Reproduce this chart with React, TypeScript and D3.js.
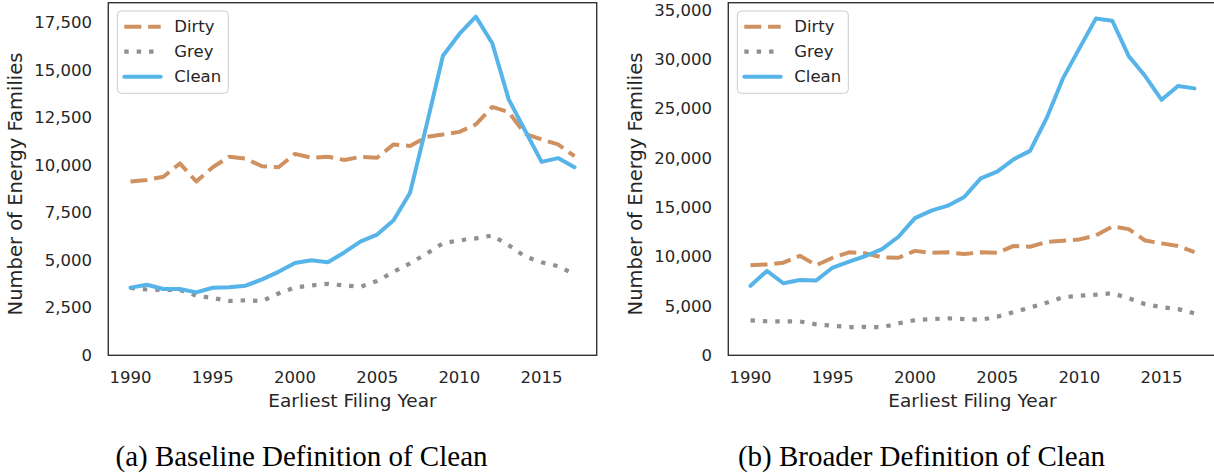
import React from "react";
import * as d3 from "d3";

const years = d3.range(1990, 2018);

const dirty = [9150, 9230, 9400, 10100, 9150, 9900, 10450, 10350, 9950, 9900, 10600, 10400, 10450, 10280,
  10450, 10400, 11100, 11020, 11500, 11620, 11760, 12150, 13070, 12800, 11650, 11360, 11100, 10480];
const grey = [3550, 3470, 3450, 3450, 3150, 3020, 2870, 2900, 2860, 3260, 3580, 3680, 3770, 3680,
  3620, 3920, 4400, 4850, 5350, 5900, 6060, 6160, 6310, 5800, 5200, 4900, 4700, 4270];
const cleanBaseline = [3570, 3720, 3500, 3500, 3320, 3560, 3590, 3670, 4000, 4400, 4860, 5010, 4900, 5420,
  6000, 6360, 7110, 8560, 12100, 15760, 16910, 17820, 16420, 13470, 11820, 10180, 10380, 9900];
const cleanBroader = [7060, 8570, 7320, 7650, 7610, 8910, 9520, 10080, 10770, 12030, 13910, 14670, 15180, 16060,
  17950, 18620, 19870, 20730, 24020, 28070, 31110, 34130, 33910, 30330, 28310, 25900, 27300, 27060];

const yTicksA = [0, 2500, 5000, 7500, 10000, 12500, 15000, 17500];
const yTicksB = [0, 5000, 10000, 15000, 20000, 25000, 30000, 35000];
const xTicks = [1990, 1995, 2000, 2005, 2010, 2015];
const legendLabels = ["Dirty", "Grey", "Clean"];
const captions = ["(a) Baseline Definition of Clean", "(b) Broader Definition of Clean"];

const COL_DIRTY = "#CF9160";
const COL_GREY = "#909090";
const COL_CLEAN = "#56B4E9";
const TXT = "#262626";
const FONT = "'DejaVu Sans', sans-serif";

type PanelProps = {
  left: number;
  clean: number[];
  yTop: number;
  yTicks: number[];
  caption: string;
  captionX: number;
};

function Panel({ left, clean, yTop, yTicks, caption, captionX }: PanelProps) {
  const W = 488.4;
  const top = 2.7;
  const bottom = 355.5;
  const x = d3.scaleLinear().domain([1988.65, 2018.35]).range([left, left + W]);
  const y = d3.scaleLinear().domain([0, yTop]).range([bottom, top]);
  const line = d3
    .line<number>()
    .x((_, i) => x(years[i]))
    .y((d) => y(d));
  const fmt = d3.format(",");
  const series = [
    { label: legendLabels[0], data: dirty, color: COL_DIRTY, dash: "17,6.8", cap: "butt", w: 4 },
    { label: legendLabels[1], data: grey, color: COL_GREY, dash: "4.4,8", cap: "butt", w: 4.2 },
    { label: legendLabels[2], data: clean, color: COL_CLEAN, dash: "none", cap: "round", w: 4 },
  ];
  const lgX = left + 9;
  const lgY = 11;
  return (
    <g>
      <g fontFamily={FONT} fontSize={16.5} fill={TXT}>
        {yTicks.map((t) => (
          <text key={t} x={left - 16.3} y={y(t)} textAnchor="end" dominantBaseline="central">
            {fmt(t)}
          </text>
        ))}
        {xTicks.map((t) => (
          <text key={t} x={x(t)} y={383} textAnchor="middle">
            {t}
          </text>
        ))}
      </g>
      <text x={left + W / 2} y={407} textAnchor="middle" fontFamily={FONT} fontSize={18.5} fill={TXT}>
        Earliest Filing Year
      </text>
      <text
        transform={`translate(${left - 86.5},${184}) rotate(-90)`}
        textAnchor="middle"
        fontFamily={FONT}
        fontSize={19.5}
        fill={TXT}
      >
        Number of Energy Families
      </text>
      {series.map((s) => (
        <path
          key={s.label}
          d={line(s.data) || ""}
          fill="none"
          stroke={s.color}
          strokeWidth={s.w}
          strokeDasharray={s.dash}
          strokeLinecap={s.cap as any}
          strokeLinejoin="round"
        />
      ))}
      <rect x={left} y={top} width={W} height={bottom - top - 0.2} fill="none" stroke="#333" strokeWidth={1.4} />
      <rect x={lgX} y={lgY} width={111} height={82.3} rx={4} fill="white" fillOpacity={0.8} stroke="#cccccc" strokeWidth={1} />
      {series.map((s, i) => {
        const ry = lgY + 15.7 + i * 25;
        return (
          <g key={s.label}>
            <line
              x1={lgX + 7}
              x2={lgX + 43.4}
              y1={ry}
              y2={ry}
              stroke={s.color}
              strokeWidth={s.w}
              strokeDasharray={s.dash}
              strokeLinecap={s.cap as any}
            />
            <text x={lgX + 57} y={ry} dominantBaseline="central" fontFamily={FONT} fontSize={16.5} fill={TXT}>
              {s.label}
            </text>
          </g>
        );
      })}
      <text
        x={captionX}
        y={466}
        textAnchor="middle"
        fontFamily="'Liberation Serif', 'Times New Roman', serif"
        fontSize={29}
        fill="#000"
      >
        {caption}
      </text>
    </g>
  );
}

export default function App() {
  return (
    <svg width={1214} height={473} style={{ position: "absolute", left: 0, top: 0, background: "white" }}>
      <Panel left={108.3} clean={cleanBaseline} yTop={18552} yTicks={yTicksA} caption={captions[0]} captionX={301.5} />
      <Panel left={728.3} clean={cleanBroader} yTop={35740} yTicks={yTicksB} caption={captions[1]} captionX={921.5} />
    </svg>
  );
}
